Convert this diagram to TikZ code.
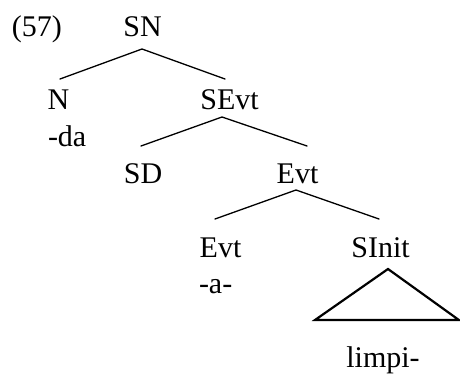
\documentclass[tikz,border=0pt]{standalone}
\usepackage{fontspec}
\setmainfont{Liberation Serif}
\begin{document}
\begin{tikzpicture}[x=1pt,y=-1pt,
  lbl/.style={inner sep=0pt,outer sep=0pt,anchor=base,font=\fontsize{30}{36}\selectfont},
  lblw/.style={lbl,anchor=base west},
  branch/.style={line width=1.3pt,line cap=round},
  tri/.style={line width=2.2pt,line join=miter}]
\useasboundingbox (0,0) rectangle (460,374);
% labels
\node[lblw] (ex) at (12,37) {(57)};
\node[lbl] (sn) at (142.5,37) {SN};
\node[lbl] (n) at (58.5,110) {N};
\node[lblw] (da) at (48,147) {-da};
\node[lbl] (sevt) at (229.5,110) {SEvt};
\node[lbl] (sd) at (143,183) {SD};
\node[lbl] (evt1) at (297.5,183) {Evt};
\node[lbl] (evt2) at (220.5,257) {Evt};
\node[lblw] (a) at (199,293) {-a-};
\node[lbl] (sinit) at (380.5,257) {SInit};
\node[lbl] (limpi) at (383,367) {limpi-};
% branches
\draw[branch] ([xshift=1.5pt,yshift=31pt]n.base) -- ([xshift=-0.5pt,yshift=-12pt]sn.base) -- ([xshift=-4.5pt,yshift=31pt]sevt.base);
\draw[branch] ([xshift=-2pt,yshift=37pt]sd.base) -- ([xshift=-7.5pt,yshift=-7pt]sevt.base) -- ([xshift=9.5pt,yshift=37pt]evt1.base);
\draw[branch] ([xshift=-5.5pt,yshift=38pt]evt2.base) -- ([xshift=-1.5pt,yshift=-7pt]evt1.base) -- ([xshift=-1.5pt,yshift=38pt]sinit.base);
% triangle
\coordinate (tl) at (315,320);
\coordinate (tr) at (458.9,320);
\draw[tri] ([xshift=7.5pt,yshift=-12pt]sinit.base) -- (tl) -- (tr) -- cycle;
\end{tikzpicture}
\end{document}
